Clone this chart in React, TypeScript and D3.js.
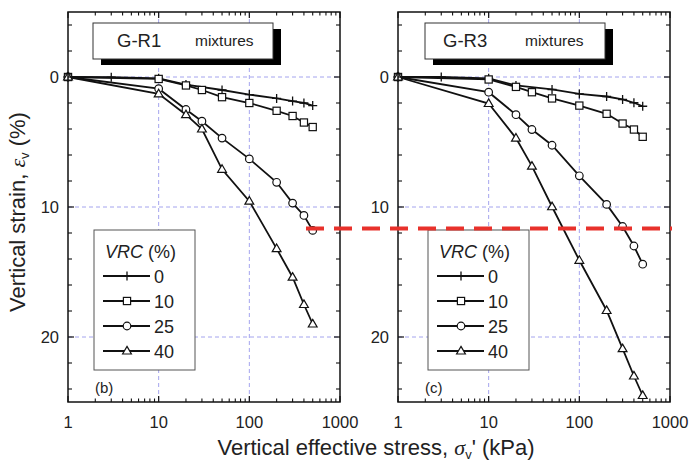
import React from "react";
import * as d3 from "d3";

// ---------- data ----------
const stressSteps = [1, 10, 20, 30, 50, 100, 200, 300, 400, 500];
const stressStepsVrc0 = [1, 3, 10, 20, 50, 100, 200, 300, 400, 500];
const vrcCategories = ["0", "10", "25", "40"];
const panelNames = ["G-R1", "G-R3"];
const panelLetters = ["(b)", "(c)"];
const xTickValues = [1, 10, 100, 1000];
const yTickValues = [0, 10, 20];

const gr1Vrc0 = [0, 0.02, 0.1, 0.58, 1.0, 1.35, 1.65, 1.85, 2.0, 2.2];
const gr1Vrc10 = [0, 0.15, 0.65, 1.0, 1.55, 2.0, 2.6, 3.0, 3.5, 3.85];
const gr1Vrc25 = [0, 0.9, 2.5, 3.4, 4.7, 6.3, 8.1, 9.7, 10.65, 11.8];
const gr1Vrc40 = [0, 1.3, 2.9, 4.0, 7.1, 9.55, 13.2, 15.4, 17.5, 19.0];

const gr3Vrc0 = [0, 0.0, 0.1, 0.65, 0.96, 1.3, 1.5, 1.73, 1.98, 2.25];
const gr3Vrc10 = [0, 0.19, 0.76, 1.17, 1.65, 2.2, 2.83, 3.58, 4.04, 4.6];
const gr3Vrc25 = [0, 1.17, 2.9, 4.04, 5.25, 7.6, 9.8, 11.5, 13.0, 14.4];
const gr3Vrc40 = [0, 2.04, 4.7, 6.86, 9.98, 14.1, 17.96, 20.9, 23.0, 24.5];

const thresholdStrain = 11.65;

// ---------- layout ----------
const W = 691;
const H = 465;
const TOP = 12;
const BOTTOM = 402;
const panels = [
  { x0: 68, x1: 340, boxDx: 25, gDx: 24, mDx: 102, legDx: 26, series: [gr1Vrc0, gr1Vrc10, gr1Vrc25, gr1Vrc40] },
  { x0: 398, x1: 670, boxDx: 27, gDx: 18, mDx: 100, legDx: 30, series: [gr3Vrc0, gr3Vrc10, gr3Vrc25, gr3Vrc40] },
];
const FONT = "Arial, 'Liberation Sans', Helvetica, sans-serif";
const GRID = "#a4a4ee";

const yScale = d3.scaleLinear().domain([-5, 25]).range([TOP, BOTTOM]);

function Marker({ kind, x, y }: { kind: number; x: number; y: number }) {
  const s = "#111";
  if (kind === 0)
    return (
      <path d={`M${x - 4.5},${y}H${x + 4.5}M${x},${y - 4.5}V${y + 4.5}`} stroke={s} strokeWidth={1.3} fill="none" />
    );
  if (kind === 1)
    return <rect x={x - 3.6} y={y - 3.6} width={7.2} height={7.2} fill="white" stroke={s} strokeWidth={1.2} />;
  if (kind === 2) return <circle cx={x} cy={y} r={3.8} fill="white" stroke={s} strokeWidth={1.2} />;
  return (
    <path d={`M${x},${y - 4.6}L${x + 4.4},${y + 3}L${x - 4.4},${y + 3}Z`} fill="white" stroke={s} strokeWidth={1.2} />
  );
}

function Panel({ p, idx }: { p: (typeof panels)[0]; idx: number }) {
  const x = d3.scaleLog().domain([1, 1000]).range([p.x0, p.x1]);
  const line = d3
    .line<[number, number]>()
    .x((d) => x(d[0]))
    .y((d) => yScale(d[1]));
  const minorX: number[] = [];
  for (let dec = 1; dec < 1000; dec *= 10) for (let k = 2; k <= 9; k++) minorX.push(dec * k);
  const minorY = d3.range(-4, 25, 2).filter((v) => v % 10 !== 0);
  const seriesPts = p.series.map((vals, si) =>
    vals.map((v, i) => [si === 0 ? stressStepsVrc0[i] : stressSteps[i], v] as [number, number])
  );
  const bx = p.x0 + p.boxDx;
  const lx = p.x0 + p.legDx;
  const ly = 230;
  return (
    <g>
      {[10, 100].map((v) => (
        <line key={"gx" + v} x1={x(v)} x2={x(v)} y1={TOP} y2={BOTTOM} stroke={GRID} strokeWidth={1} strokeDasharray="4,3" />
      ))}
      {yTickValues.map((v) => (
        <line key={"gy" + v} x1={p.x0} x2={p.x1} y1={yScale(v)} y2={yScale(v)} stroke={GRID} strokeWidth={1} strokeDasharray="4,3" />
      ))}
      <rect x={bx + 8} y={29} width={180} height={36} fill="#000" />
      <rect x={bx} y={23} width={180} height={36} fill="white" stroke="#333" strokeWidth={1} />
      <text x={bx + p.gDx} y={47} fontFamily={FONT} fontSize={18.5} fill="#222">
        {panelNames[idx]}
      </text>
      <text x={bx + p.mDx} y={46} fontFamily={FONT} fontSize={15.5} fill="#222">
        mixtures
      </text>
      {seriesPts.map((pts, si) => (
        <path key={"l" + si} d={line(pts) || ""} fill="none" stroke="#111" strokeWidth={1.8} />
      ))}
      {seriesPts.map((pts, si) =>
        pts.map((d, i) => <Marker key={"m" + si + "-" + i} kind={si} x={x(d[0])} y={yScale(d[1])} />)
      )}
      <rect x={lx} y={ly} width={101} height={140} fill="white" stroke="#555" strokeWidth={1} />
      <text x={lx + 11} y={ly + 28} fontFamily={FONT} fontSize={18} fill="#222">
        <tspan fontStyle="italic">VRC</tspan>
        <tspan> (%)</tspan>
      </text>
      {vrcCategories.map((c, i) => {
        const cy = ly + 46 + i * 25;
        return (
          <g key={"lg" + c}>
            <line x1={lx + 9} x2={lx + 56} y1={cy} y2={cy} stroke="#111" strokeWidth={1.8} />
            <Marker kind={i} x={lx + 33} y={cy} />
            <text x={lx + 60} y={cy + 6.5} fontFamily={FONT} fontSize={18} fill="#222">
              {c}
            </text>
          </g>
        );
      })}
      <text x={p.x0 + 27} y={393} fontFamily={FONT} fontSize={15} fill="#222">
        {panelLetters[idx]}
      </text>
      <rect x={p.x0} y={TOP} width={p.x1 - p.x0} height={BOTTOM - TOP} fill="none" stroke="#111" strokeWidth={1.5} />
      {xTickValues.map((v) => (
        <g key={"xt" + v}>
          <line x1={x(v)} x2={x(v)} y1={BOTTOM} y2={BOTTOM - 6} stroke="#111" strokeWidth={1.2} />
          <line x1={x(v)} x2={x(v)} y1={TOP} y2={TOP + 6} stroke="#111" strokeWidth={1.2} />
          <text x={x(v)} y={428} textAnchor="middle" fontFamily={FONT} fontSize={16.5} fill="#222">
            {v}
          </text>
        </g>
      ))}
      {minorX.map((v) => (
        <g key={"xm" + v}>
          <line x1={x(v)} x2={x(v)} y1={BOTTOM} y2={BOTTOM - 3.5} stroke="#111" strokeWidth={1.1} />
          <line x1={x(v)} x2={x(v)} y1={TOP} y2={TOP + 3.5} stroke="#111" strokeWidth={1.1} />
        </g>
      ))}
      {yTickValues.map((v) => (
        <g key={"yt" + v}>
          <line x1={p.x0} x2={p.x0 + 6} y1={yScale(v)} y2={yScale(v)} stroke="#111" strokeWidth={1.2} />
          <line x1={p.x1} x2={p.x1 - 6} y1={yScale(v)} y2={yScale(v)} stroke="#111" strokeWidth={1.2} />
          <text x={p.x0 - 9} y={yScale(v) + 6} textAnchor="end" fontFamily={FONT} fontSize={16.5} fill="#222">
            {v}
          </text>
        </g>
      ))}
      {minorY.map((v) => (
        <g key={"ym" + v}>
          <line x1={p.x0} x2={p.x0 + 4} y1={yScale(v)} y2={yScale(v)} stroke="#111" strokeWidth={1.1} />
          <line x1={p.x1} x2={p.x1 - 4} y1={yScale(v)} y2={yScale(v)} stroke="#111" strokeWidth={1.1} />
        </g>
      ))}
    </g>
  );
}

export default function App() {
  const yRed = yScale(thresholdStrain);
  return (
    <svg
      width={W}
      height={H}
      viewBox={`0 0 ${W} ${H}`}
      style={{ position: "absolute", left: 0, top: 0, background: "white" }}
    >
      <rect x={0} y={0} width={W} height={H} fill="white" />
      {panels.map((p, i) => (
        <Panel key={i} p={p} idx={i} />
      ))}
      <line x1={306} x2={672} y1={yRed} y2={yRed} stroke="#e8312b" strokeWidth={4} strokeDasharray="18,10" />
      <text x={376} y={455} textAnchor="middle" fontFamily={FONT} fontSize={22} fill="#222">
        <tspan>Vertical effective stress, </tspan>
        <tspan fontStyle="italic" fontFamily="'Liberation Serif', serif">σ</tspan>
        <tspan fontSize={13} dy={4}>v</tspan>
        <tspan dy={-4}>' (kPa)</tspan>
      </text>
      <text
        transform={`translate(25,${212}) rotate(-90)`}
        textAnchor="middle"
        fontFamily={FONT}
        fontSize={22}
        fill="#222"
      >
        <tspan>Vertical strain, </tspan>
        <tspan fontStyle="italic" fontFamily="'Liberation Serif', serif">ε</tspan>
        <tspan fontSize={13} dy={4}>v</tspan>
        <tspan dy={-4}> (%)</tspan>
      </text>
    </svg>
  );
}
